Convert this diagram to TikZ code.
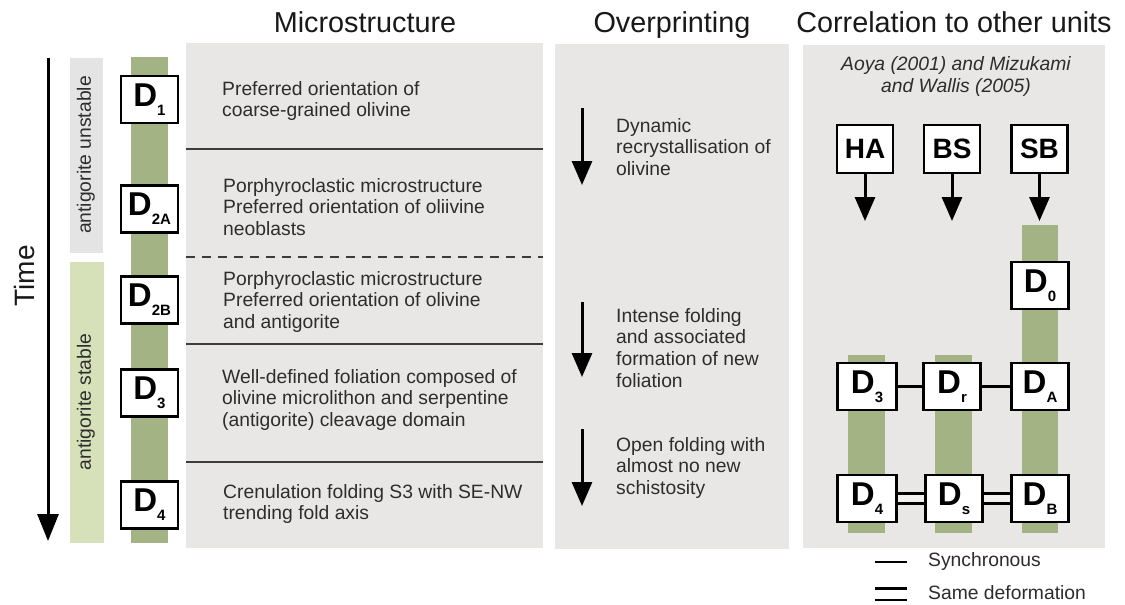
\documentclass[tikz,border=0pt]{standalone}
\usepackage{fontspec}
\setmainfont{Liberation Sans}
\usetikzlibrary{arrows.meta}
\definecolor{panelgray}{RGB}{233,231,229}
\definecolor{unstablegray}{RGB}{228,228,228}
\definecolor{stablegreen}{RGB}{215,225,185}
\definecolor{colgreen}{RGB}{163,179,131}
\definecolor{txtgray}{RGB}{45,45,45}
\definecolor{linegray}{RGB}{60,60,60}
\begin{document}
\begin{tikzpicture}[x=1pt,y=-1pt,
  dbox/.style={draw=black, line width=2.6pt, fill=white, minimum width=57pt, minimum height=47pt, inner sep=0pt, font=\bfseries},
  ubox/.style={draw=black, line width=2.6pt, fill=white, minimum width=56pt, minimum height=48pt, inner sep=0pt, font=\bfseries\fontsize{28}{28}\selectfont},
  body/.style={font=\fontsize{19.3}{21.7}\selectfont, align=left, inner sep=0pt, anchor=north west, text=txtgray},
  title/.style={font=\fontsize{28.8}{30}\selectfont, anchor=base, inner sep=0pt, text=black!90},
  sepline/.style={line width=2pt, draw=linegray},
  arr/.style={line width=3pt, -{Triangle[width=20pt,length=24pt]}},
  sync/.style={line width=2.4pt, draw=black},
  same/.style={line width=2.6pt, draw=black, double distance=7.5pt},
]
\newcommand{\Dlab}[1]{{\fontsize{33}{33}\selectfont D}\raisebox{-9pt}{\fontsize{15}{15}\selectfont #1}}
\useasboundingbox (0,0) rectangle (1125,605);
\fill[white] (0,0) rectangle (1125,605);

% panels
\fill[panelgray] (186,43) rectangle (543,548);
\fill[panelgray] (555,44) rectangle (789,549);
\fill[panelgray] (803,45) rectangle (1105,548);

% left bars
\fill[unstablegray] (70,58) rectangle (103,253);
\fill[stablegreen] (70,262) rectangle (104,543);
\fill[colgreen] (131,57) rectangle (168,543);

% correlation bars
\fill[colgreen] (848,355) rectangle (885,533);
\fill[colgreen] (935,355) rectangle (972,533);
\fill[colgreen] (1022,225) rectangle (1058,533);

% titles
\node[title] (tmicro) at (365,32) {Microstructure};
\node[title] (tover) at (672,32) {Overprinting};
\node[title] (tcorr) at (954,32) {Correlation to other units};

% time arrow
\coordinate (t0) at (48,58);
\coordinate (t1) at (48,541);
\draw[line width=3pt, -{Triangle[width=21pt,length=27pt]}] (t0) -- (t1);
\node[rotate=90, font=\fontsize{28}{28}\selectfont, text=black!90] (time) at (24,276) {Time};
\node[rotate=90, font=\fontsize{19.3}{20}\selectfont, text=txtgray] (unst) at (86,155) {antigorite unstable};
\node[rotate=90, font=\fontsize{19.3}{20}\selectfont, text=txtgray] (stab) at (86,402) {antigorite stable};

% separators in microstructure panel
\draw[sepline] (186,149) -- (543,149);
\draw[sepline, dash pattern=on 9pt off 7pt] (186,257) -- (543,257);
\draw[sepline] (186,344) -- (543,344);
\draw[sepline] (186,462) -- (543,462);

% left D boxes
\node[dbox] (d1) at (149.5,99.5) {\Dlab{1}};
\node[dbox] (d2a) at (149.5,209) {\Dlab{2A}};
\node[dbox] (d2b) at (149.5,300) {\Dlab{2B}};
\node[dbox] (d3) at (149.5,393) {\Dlab{3}};
\node[dbox] (d4) at (149.5,505) {\Dlab{4}};

% microstructure texts
\node[body] (m1) at (222,81) {Preferred orientation of\\coarse-grained olivine};
\node[body] (m2) at (223,178) {Porphyroclastic microstructure\\Preferred orientation of oliivine\\neoblasts};
\node[body] (m3) at (223,271) {Porphyroclastic microstructure\\Preferred orientation of olivine\\and antigorite};
\node[body] (m4) at (222,369) {Well-defined foliation composed of\\olivine microlithon and serpentine\\(antigorite) cleavage domain};
\node[body] (m5) at (223,484) {Crenulation folding S3 with SE-NW\\trending fold axis};

% overprinting
\coordinate (o1a) at (582,108); \coordinate (o1b) at (582,185);
\coordinate (o2a) at (582,302); \coordinate (o2b) at (582,377);
\coordinate (o3a) at (582,429); \coordinate (o3b) at (582,506);
\draw[arr] (o1a) -- (o1b);
\draw[arr] (o2a) -- (o2b);
\draw[arr] (o3a) -- (o3b);
\node[body] (p1) at (616,118) {Dynamic\\recrystallisation of\\olivine};
\node[body] (p2) at (616,308) {Intense folding\\and associated\\formation of new\\foliation};
\node[body] (p3) at (616,437) {Open folding with\\almost no new\\schistosity};

% correlation
\node[font=\itshape\fontsize{19.3}{22.5}\selectfont, align=center, anchor=north, inner sep=0pt, text=txtgray] (ref) at (956,56) {Aoya (2001) and Mizukami\\and Wallis (2005)};
\node[ubox] (ha) at (865,149) {HA};
\node[ubox] (bs) at (952,149) {BS};
\node[ubox] (sb) at (1039.5,149) {SB};
\coordinate (haend) at (865,221);
\coordinate (bsend) at (952,221);
\coordinate (sbend) at (1039.5,221);
\draw[arr] (ha) -- (haend);
\draw[arr] (bs) -- (bsend);
\draw[arr] (sb) -- (sbend);

\node[dbox] (d0) at (1040,285.5) {\Dlab{0}};
\node[dbox, minimum width=59pt] (cd3) at (867,386.5) {\Dlab{3}};
\node[dbox] (cdr) at (952,386.5) {\Dlab{r}};
\node[dbox] (cda) at (1040,386.5) {\Dlab{A}};
\node[dbox, minimum width=59pt] (cd4) at (867,498.5) {\Dlab{4}};
\node[dbox] (cds) at (954,498.5) {\Dlab{s}};
\node[dbox] (cdb) at (1040,498.5) {\Dlab{B}};

\draw[sync] (cd3) -- (cdr);
\draw[sync] (cdr) -- (cda);
\draw[same, double=white!40!panelgray] (cd4) -- (cds);
\draw[same, double=white!40!panelgray] (cds) -- (cdb);

% legend
\coordinate (l1a) at (875,562); \coordinate (l1b) at (907,562);
\coordinate (l2a) at (875,594); \coordinate (l2b) at (907,594);
\draw[sync] (l1a) -- (l1b);
\draw[same, double=white, double distance=9pt] (l2a) -- (l2b);
\node[font=\fontsize{19.3}{20}\selectfont, anchor=west, inner sep=0pt, text=txtgray] (lsync) at (928,562) {Synchronous};
\node[font=\fontsize{19.3}{20}\selectfont, anchor=west, inner sep=0pt, text=txtgray] (lsame) at (928,593) {Same deformation};
\end{tikzpicture}
\end{document}
